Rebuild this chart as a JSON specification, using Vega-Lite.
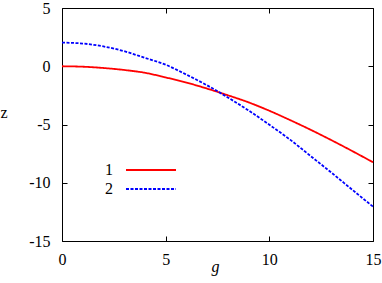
{
  "$schema": "https://vega.github.io/schema/vega-lite/v6.json",
  "width": 311,
  "height": 233,
  "autosize": {"type": "none"},
  "padding": {"left": 62, "top": 8, "right": 9, "bottom": 42},
  "background": "white",
  "config": {
    "view": {"stroke": "#000000", "strokeWidth": 1},
    "font": "Times New Roman",
    "axis": {
      "domain": false,
      "grid": false,
      "ticks": true,
      "tickSize": 5,
      "offset": -5,
      "labelFlush": false,
      "tickColor": "#000000",
      "tickOpacity": 1,
      "tickWidth": 1,
      "labelFont": "Times New Roman",
      "titleFont": "Times New Roman",
      "labelFontSize": 16,
      "labelColor": "#000000",
      "titleFontSize": 16,
      "titleFontWeight": "normal",
      "titleColor": "#000000"
    },
    "legend": {
      "labelFont": "Times New Roman",
      "labelFontSize": 16,
      "labelColor": "#000000"
    }
  },
  "data": {
    "values": [
      {"series": "1", "g": 0, "z": 0},
      {"series": "1", "g": 1, "z": -0.04},
      {"series": "1", "g": 2, "z": -0.15},
      {"series": "1", "g": 3, "z": -0.32},
      {"series": "1", "g": 4, "z": -0.56},
      {"series": "1", "g": 5, "z": -0.96},
      {"series": "1", "g": 6, "z": -1.4},
      {"series": "1", "g": 7, "z": -1.92},
      {"series": "1", "g": 8, "z": -2.49},
      {"series": "1", "g": 9, "z": -3.1},
      {"series": "1", "g": 10, "z": -3.82},
      {"series": "1", "g": 11, "z": -4.62},
      {"series": "1", "g": 12, "z": -5.46},
      {"series": "1", "g": 13, "z": -6.35},
      {"series": "1", "g": 14, "z": -7.28},
      {"series": "1", "g": 15, "z": -8.24},
      {"series": "2", "g": 0, "z": 2.03},
      {"series": "2", "g": 1, "z": 1.95},
      {"series": "2", "g": 2, "z": 1.7},
      {"series": "2", "g": 3, "z": 1.29},
      {"series": "2", "g": 4, "z": 0.72},
      {"series": "2", "g": 5, "z": 0.13},
      {"series": "2", "g": 6, "z": -0.72},
      {"series": "2", "g": 7, "z": -1.64},
      {"series": "2", "g": 8, "z": -2.68},
      {"series": "2", "g": 9, "z": -3.8},
      {"series": "2", "g": 10, "z": -5.02},
      {"series": "2", "g": 11, "z": -6.3},
      {"series": "2", "g": 12, "z": -7.72},
      {"series": "2", "g": 13, "z": -9.14},
      {"series": "2", "g": 14, "z": -10.6},
      {"series": "2", "g": 15, "z": -12.05}
    ]
  },
  "layer": [
    {
      "mark": {"type": "line", "interpolate": "monotone", "strokeWidth": 1.8},
      "encoding": {
        "x": {
          "field": "g", "type": "quantitative",
          "scale": {"domain": [0, 15], "nice": false, "zero": false},
          "axis": {"orient": "bottom", "values": [0, 5, 10, 15], "labelFont": "Times New Roman", "labelPadding": 10, "title": "g", "titleFontStyle": "italic", "titleX": 153, "titleY": 35.5, "titleBaseline": "alphabetic", "titleAnchor": "middle"}
        },
        "y": {
          "field": "z", "type": "quantitative",
          "scale": {"domain": [-15, 5], "nice": false, "zero": false},
          "axis": {"orient": "left", "values": [-15, -10, -5, 0, 5], "labelFont": "Times New Roman", "labelExpr": "'' + datum.value", "labelPadding": 12, "title": "z", "titleAngle": 0, "titleX": -63.5, "titleY": 104, "titleAlign": "center", "titleBaseline": "middle"}
        },
        "color": {
          "field": "series", "type": "nominal",
          "scale": {"domain": ["1", "2"], "range": ["#ff0000", "#0000ff"]},
          "legend": {"orient": "none", "legendX": 63, "legendY": 136, "values": ["1"], "title": null, "symbolType": "stroke", "symbolSize": 2500, "symbolStrokeWidth": 1.8, "labelAlign": "right", "labelOffset": -64, "padding": 0}
        },
        "strokeDash": {
          "field": "series", "type": "nominal",
          "scale": {"domain": ["2", "1"], "range": [[3, 1.5], [1, 0]]},
          "legend": {"orient": "none", "legendX": 63, "legendY": 155, "values": ["2"], "title": null, "symbolType": "stroke", "symbolSize": 2500, "symbolStrokeWidth": 1.8, "symbolStrokeColor": "#0000ff", "labelAlign": "right", "labelOffset": -64, "padding": 0}
        }
      }
    },
    {
      "mark": {"type": "line", "opacity": 0},
      "encoding": {
        "x": {"field": "g", "type": "quantitative", "axis": {"orient": "top", "values": [0, 5, 10, 15], "labels": false, "title": null}},
        "y": {"field": "z", "type": "quantitative", "axis": {"orient": "right", "values": [-15, -10, -5, 0, 5], "labels": false, "title": null}},
        "detail": {"field": "series"}
      }
    }
  ],
  "resolve": {"axis": {"x": "independent", "y": "independent"}}
}
